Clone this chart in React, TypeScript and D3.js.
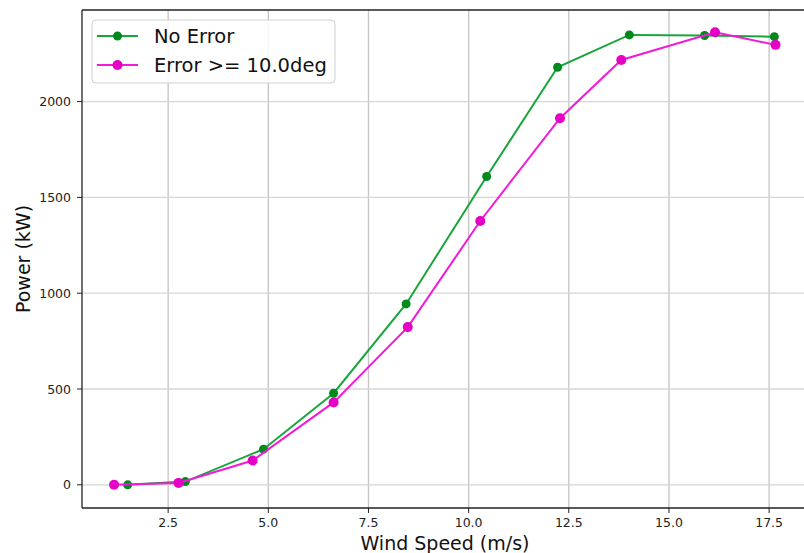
import React from "react";
import * as d3 from "d3";

const noErrSpeed = [1.49, 2.93, 4.88, 6.63, 8.44, 10.45, 12.22, 14.01, 15.89, 17.63];
const noErrPower = [0, 17, 186, 478, 944, 1609, 2179, 2348, 2345, 2339];
const errSpeed = [1.15, 2.76, 4.61, 6.63, 8.48, 10.29, 12.28, 13.81, 16.15, 17.66];
const errPower = [0, 10, 127, 430, 823, 1377, 1913, 2217, 2362, 2296];
const xTicks = [2.5, 5.0, 7.5, 10.0, 12.5, 15.0, 17.5];
const yTicks = [0, 500, 1000, 1500, 2000];
const seriesNames = ["No Error", "Error >= 10.0deg"];

const W = 804;
const H = 553;
const L = 82, R = 808, T = 10, B = 508;

export default function App() {
  const x = d3.scaleLinear().domain([0.35, 18.47]).range([L, R]);
  const y = d3.scaleLinear().domain([-121, 2478]).range([B, T]);
  const series = [
    { name: seriesNames[0], xs: noErrSpeed, ys: noErrPower, line: "#18a63c", mark: "#008a1c", r: 4.5 },
    { name: seriesNames[1], xs: errSpeed, ys: errPower, line: "#f21ad8", mark: "#e600c6", r: 5 },
  ];
  const lineGen = d3.line<[number, number]>().x((d) => x(d[0])).y((d) => y(d[1]));
  const font = "'DejaVu Sans', sans-serif";
  return (
    <svg width={W} height={H} style={{ position: "absolute", left: 0, top: 0, background: "#fff" }}>
      <defs>
        <clipPath id="plot">
          <rect x={L} y={T} width={R - L} height={B - T} />
        </clipPath>
      </defs>
      <rect x={0} y={0} width={W} height={H} fill="#fff" />
      {/* grid */}
      {xTicks.map((t) => (
        <line key={"gx" + t} x1={x(t)} x2={x(t)} y1={T} y2={B} stroke="#c4c4c4" strokeWidth={1.3} />
      ))}
      {yTicks.map((t) => (
        <line key={"gy" + t} x1={L} x2={R} y1={y(t)} y2={y(t)} stroke="#d6d6d6" strokeWidth={1.3} />
      ))}
      {/* series */}
      <g clipPath="url(#plot)">
        {series.map((s) => {
          const pts: [number, number][] = s.xs.map((v, i) => [v, s.ys[i]]);
          return (
            <g key={s.name}>
              <path d={lineGen(pts) || ""} fill="none" stroke={s.line} strokeWidth={2} />
              {pts.map((p, i) => (
                <circle key={i} cx={x(p[0])} cy={y(p[1])} r={s.r} fill={s.mark} />
              ))}
            </g>
          );
        })}
      </g>
      {/* spines */}
      <line x1={L} x2={L} y1={T} y2={B} stroke="#222" strokeWidth={1.3} />
      <line x1={L} x2={R} y1={B} y2={B} stroke="#222" strokeWidth={1.3} />
      <line x1={L} x2={R} y1={T} y2={T} stroke="#222" strokeWidth={1.3} />
      {/* x ticks */}
      {xTicks.map((t) => (
        <g key={"xt" + t}>
          <line x1={x(t)} x2={x(t)} y1={B} y2={B + 5} stroke="#222" strokeWidth={1} />
          <text x={x(t)} y={527} textAnchor="middle" fontFamily={font} fontSize={12.5} fill="#222">
            {t.toFixed(1)}
          </text>
        </g>
      ))}
      {/* y ticks */}
      {yTicks.map((t) => (
        <g key={"yt" + t}>
          <line x1={L - 5} x2={L} y1={y(t)} y2={y(t)} stroke="#222" strokeWidth={1} />
          <text x={71} y={y(t) + 4.5} textAnchor="end" fontFamily={font} fontSize={12.5} fill="#222">
            {t}
          </text>
        </g>
      ))}
      {/* axis titles */}
      <text x={(L + R) / 2} y={550} textAnchor="middle" fontFamily={font} fontSize={19} fill="#111">
        Wind Speed (m/s)
      </text>
      <text
        transform={`translate(30, ${(T + B) / 2}) rotate(-90)`}
        textAnchor="middle"
        fontFamily={font}
        fontSize={19}
        fill="#111"
      >
        Power (kW)
      </text>
      {/* legend */}
      <rect x={92} y={20} width={243} height={63} rx={4} fill="#fff" fillOpacity={0.85} stroke="#d0d0d0" strokeWidth={1} />
      {series.map((s, i) => {
        const ly = 36 + i * 29;
        return (
          <g key={"lg" + i}>
            <line x1={97} x2={138} y1={ly} y2={ly} stroke={s.line} strokeWidth={2} />
            <circle cx={117.5} cy={ly} r={s.r} fill={s.mark} />
            <text x={154} y={ly + 7} fontFamily={font} fontSize={19.5} fill="#111">
              {s.name}
            </text>
          </g>
        );
      })}
    </svg>
  );
}
